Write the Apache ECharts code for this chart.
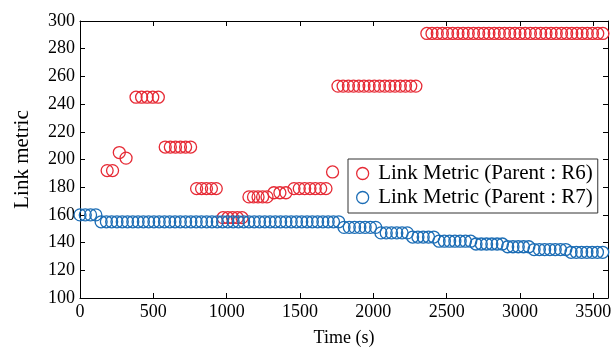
<!DOCTYPE html>
<html><head><meta charset="utf-8">
<script src="https://cdn.jsdelivr.net/npm/echarts@6/dist/echarts.min.js"></script>
<style>html,body{margin:0;padding:0;background:#fff}#c{width:614px;height:349px}</style>
</head><body><div id="c"></div>
<script>
const seriesNames = ['Link Metric (Parent : R6)', 'Link Metric (Parent : R7)'];
const xAxisName = 'Time (s)';
const yAxisName = 'Link metric';

const r6Time = [185,222,268,314,
  382,420,458,496,534,
  581,616,651,685,720,754,
  795,829,862,896,929,
  975,1008,1040,1073,1105,
  1152,1183,1214,1245,1275,
  1322,1363,1404,
  1459,1495,1532,1568,1604,1641,1677,
  1722,
  1759,1794,1830,1865,1901,1936,1971,2007,2042,2078,2113,2148,2184,2219,2255,2290,
  2365,2400,2436,2471,2506,2541,2577,2612,2647,2683,2718,2753,2788,2824,2859,2894,2930,2965,3000,3035,3071,3106,3141,3177,3212,3247,3283,3318,3353,3388,3424,3459,3494,3530,3565];
const r6Value = [192,192,205,201,
  245,245,245,245,245,
  209,209,209,209,209,209,
  179,179,179,179,179,
  158,158,158,158,158,
  173,173,173,173,173,
  176,176,176,
  179,179,179,179,179,179,179,
  191,
  253,253,253,253,253,253,253,253,253,253,253,253,253,253,253,253,
  291,291,291,291,291,291,291,291,291,291,291,291,291,291,291,291,291,291,291,291,291,291,291,291,291,291,291,291,291,291,291,291,291,291,291];

const r7Time = [
  0,36,72,108,144,180,216,252,288,324,
  360,396,432,468,504,540,576,612,648,684,
  720,756,792,828,864,900,936,972,1008,1044,
  1080,1116,1152,1188,1224,1260,1296,1332,1368,1404,
  1440,1476,1512,1548,1584,1620,1656,1692,1728,1764,
  1800,1836,1872,1908,1944,1980,2016,2052,2088,2124,
  2160,2196,2232,2268,2304,2340,2376,2412,2448,2484,
  2520,2556,2592,2628,2664,2700,2736,2772,2808,2844,
  2880,2916,2952,2988,3024,3060,3096,3132,3168,3204,
  3240,3276,3312,3348,3384,3420,3456,3492,3528,3564];
const r7Value = [
  160,160,160,160,155,155,155,155,155,155,
  155,155,155,155,155,155,155,155,155,155,
  155,155,155,155,155,155,155,155,155,155,
  155,155,155,155,155,155,155,155,155,155,
  155,155,155,155,155,155,155,155,155,155,
  151,151,151,151,151,151,151,147,147,147,
  147,147,147,144,144,144,144,144,141,141,
  141,141,141,141,141,139,139,139,139,139,
  139,137,137,137,137,137,135,135,135,135,
  135,135,135,133,133,133,133,133,133,133];

const red = '#e62a35', blue = '#1c6db5';
const font = 'Liberation Serif';
const zip = (a, b) => a.map((t, i) => [t, b[i]]);

const chart = echarts.init(document.getElementById('c'), null, {renderer: 'canvas'});
const axisCommon = {
  axisLine: {show: true, onZero: false, lineStyle: {color: '#000', width: 1}},
  axisTick: {show: true, inside: true, length: 5, lineStyle: {color: '#000'}},
  splitLine: {show: false}
};
chart.setOption({
  animation: false,
  backgroundColor: '#fff',
  textStyle: {fontFamily: font},
  grid: {left: 80, right: 6, top: 21, bottom: 51, containLabel: false, outerBoundsMode: 'none'},
  xAxis: [
    Object.assign({type: 'value', min: 0, max: 3600, interval: 500, position: 'bottom',
      name: xAxisName, nameLocation: 'middle', nameGap: 31,
      nameTextStyle: {fontFamily: font, fontSize: 18, color: '#000'},
      axisLabel: {fontFamily: font, fontSize: 18, color: '#000', margin: 5, showMaxLabel: false,
        formatter: v => String(v)}}, axisCommon),
    Object.assign({type: 'value', min: 0, max: 3600, interval: 500, position: 'top',
      axisLabel: {show: false}}, axisCommon)
  ],
  yAxis: [
    Object.assign({type: 'value', min: 100, max: 300, interval: 20, position: 'left',
      name: yAxisName, nameLocation: 'middle', nameGap: 47,
      nameTextStyle: {fontFamily: font, fontSize: 21, color: '#000'},
      axisLabel: {fontFamily: font, fontSize: 18, color: '#000', margin: 5,
        formatter: v => String(v)}}, axisCommon),
    Object.assign({type: 'value', min: 100, max: 300, interval: 20, position: 'right',
      axisLabel: {show: false}}, axisCommon)
  ],
  legend: {
    orient: 'vertical', left: 348, top: 159,
    padding: [4, 5, 5, 8], itemGap: 3, itemWidth: 13, itemHeight: 12,
    backgroundColor: '#fff', borderColor: '#333', borderWidth: 1,
    textStyle: {fontFamily: font, fontSize: 21, color: '#000', padding: [0, 0, 0, 4]},
    data: seriesNames.map((n, i) => ({name: n, icon: 'circle',
      itemStyle: {color: 'transparent', borderColor: i === 0 ? red : blue, borderWidth: 1.3}}))
  },
  series: [
    {name: seriesNames[0], type: 'scatter', symbol: 'circle', symbolSize: 12,
      itemStyle: {color: 'transparent', borderColor: red, borderWidth: 1.3, opacity: 1},
      data: zip(r6Time, r6Value)},
    {name: seriesNames[1], type: 'scatter', symbol: 'circle', symbolSize: 12,
      itemStyle: {color: 'transparent', borderColor: blue, borderWidth: 1.3, opacity: 1},
      data: zip(r7Time, r7Value)}
  ]
});
</script></body></html>
